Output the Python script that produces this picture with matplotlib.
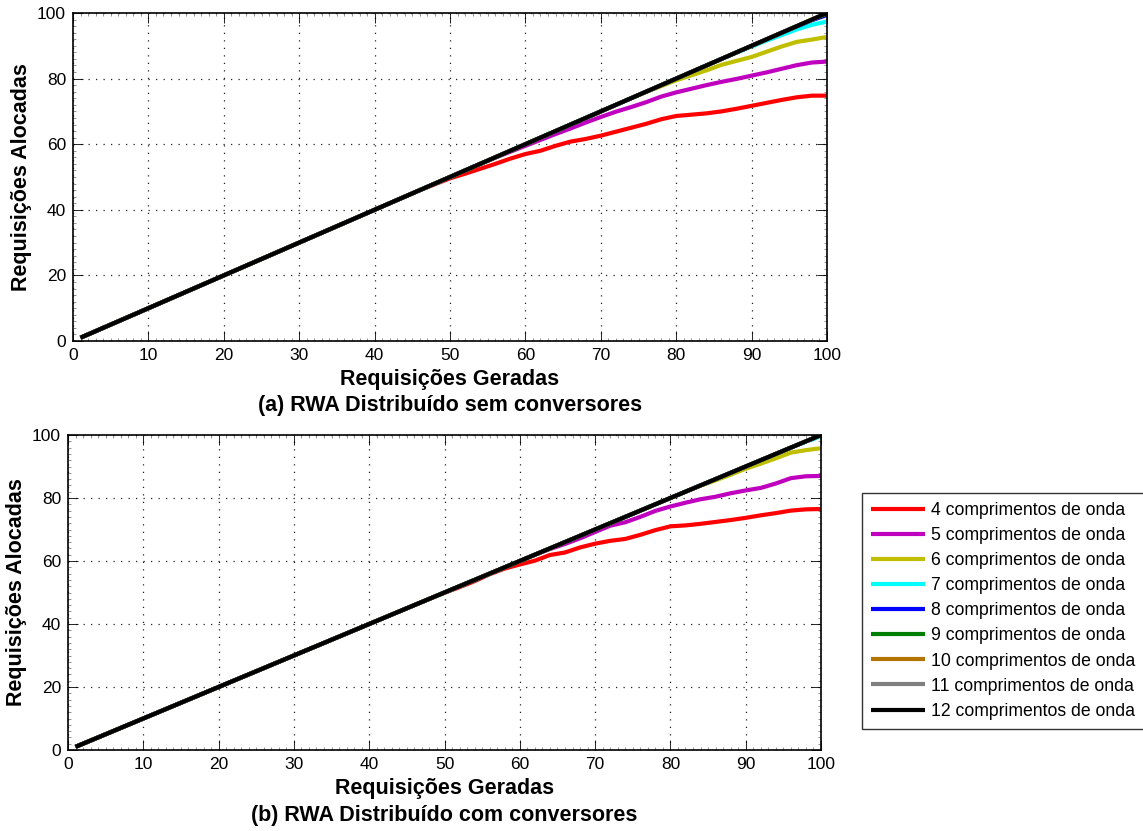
import matplotlib
matplotlib.use("Agg")
import matplotlib.pyplot as plt
from matplotlib.ticker import MultipleLocator

plt.rcParams['font.family'] = ['Liberation Sans', 'DejaVu Sans']

# requisicoes geradas (x)
X = [1, 44, 46, 48, 50, 52, 54, 56, 58, 60, 62, 64, 66, 68, 70, 72, 74, 76, 78, 80,
     82, 84, 86, 88, 90, 92, 94, 96, 98, 100]

# (a) sem conversores
SEM_4 = [1, 44, 46, 47.8, 49.6, 51.0, 52.5, 54.0, 55.6, 57.0, 58.0, 59.5, 60.8, 61.6, 62.6,
         63.8, 65.0, 66.2, 67.6, 68.6, 69.0, 69.4, 70.0, 70.8, 71.7, 72.6, 73.5, 74.3, 74.8, 74.8]
SEM_5 = [1, 44, 46, 48, 50, 52, 54, 55.9, 57.7, 59.5, 61.3, 63.1, 64.8, 66.6, 68.3,
         69.9, 71.3, 72.8, 74.5, 75.8, 76.9, 78.0, 79.0, 79.9, 80.9, 81.9, 83.0, 84.1, 84.9, 85.2]
SEM_6 = [1, 44, 46, 48, 50, 52, 54, 56, 58, 60, 62, 64, 66, 68, 70,
         72, 74, 75.9, 77.7, 79.5, 81.0, 82.5, 84.2, 85.4, 86.6, 88.2, 89.8, 91.2, 91.9, 92.7]
SEM_7 = [1, 44, 46, 48, 50, 52, 54, 56, 58, 60, 62, 64, 66, 68, 70,
         72, 74, 76, 78, 80, 82, 84, 86, 87.9, 89.8, 91.6, 93.3, 95.0, 96.4, 97.4]
SEM_8 = [1, 44, 46, 48, 50, 52, 54, 56, 58, 60, 62, 64, 66, 68, 70,
         72, 74, 76, 78, 80, 82, 84, 86, 88, 90, 92, 94, 95.9, 97.8, 99.4]
SEM_9 = [1, 44, 46, 48, 50, 52, 54, 56, 58, 60, 62, 64, 66, 68, 70,
         72, 74, 76, 78, 80, 82, 84, 86, 88, 90, 92, 94, 96, 98, 99.8]
SEM_10 = [1, 44, 46, 48, 50, 52, 54, 56, 58, 60, 62, 64, 66, 68, 70,
          72, 74, 76, 78, 80, 82, 84, 86, 88, 90, 92, 94, 96, 98, 100]
SEM_11 = [1, 44, 46, 48, 50, 52, 54, 56, 58, 60, 62, 64, 66, 68, 70,
          72, 74, 76, 78, 80, 82, 84, 86, 88, 90, 92, 94, 96, 98, 100]
SEM_12 = [1, 44, 46, 48, 50, 52, 54, 56, 58, 60, 62, 64, 66, 68, 70,
          72, 74, 76, 78, 80, 82, 84, 86, 88, 90, 92, 94, 96, 98, 100]

# (b) com conversores
COM_4 = [1, 44, 46, 48, 49.9, 51.7, 53.6, 55.8, 57.6, 58.9, 60.1, 61.9, 62.7, 64.3, 65.5,
         66.4, 67.0, 68.3, 69.8, 71.0, 71.3, 71.8, 72.4, 73.0, 73.7, 74.5, 75.2, 76.0, 76.4, 76.5]
COM_5 = [1, 44, 46, 48, 50, 52, 54, 56, 58, 60, 62, 63.8, 65.4, 67.2, 69.2,
         71.2, 72.3, 74.0, 75.9, 77.3, 78.5, 79.6, 80.4, 81.5, 82.4, 83.2, 84.6, 86.3, 86.9, 87.0]
COM_6 = [1, 44, 46, 48, 50, 52, 54, 56, 58, 60, 62, 64, 66, 68, 70,
         72, 74, 76, 78, 80, 82, 83.9, 85.6, 87.4, 89.3, 90.9, 92.6, 94.4, 95.2, 95.8]
COM_7 = [1, 44, 46, 48, 50, 52, 54, 56, 58, 60, 62, 64, 66, 68, 70,
         72, 74, 76, 78, 80, 82, 84, 86, 88, 90, 92, 94, 96, 97.9, 99.6]
COM_8 = [1, 44, 46, 48, 50, 52, 54, 56, 58, 60, 62, 64, 66, 68, 70,
         72, 74, 76, 78, 80, 82, 84, 86, 88, 90, 92, 94, 96, 98, 100]
COM_9 = COM_8
COM_10 = COM_8
COM_11 = COM_8
COM_12 = COM_8

NAMES = ['%d comprimentos de onda' % n for n in range(4, 13)]
COLORS = ['#ff0000', '#bf00bf', '#bfbf00', '#00ffff', '#0000ff', '#007f00',
          '#b37400', '#808080', '#000000']

W, H = 1143, 831
fig = plt.figure(figsize=(W / 100, H / 100), dpi=100)
ax1 = fig.add_axes([73 / W, 1 - 341 / H, 754 / W, 328 / H])
ax2 = fig.add_axes([68 / W, 1 - 750 / H, 753 / W, 315 / H])


def draw(ax, series, sub, sub_y):
    for ys, c, name in zip(series, COLORS, NAMES):
        ax.plot(X, ys, color=c, lw=3.0, label=name, solid_capstyle='butt')
    ax.set_xlim(0, 100)
    ax.set_ylim(0, 100)
    ax.xaxis.set_major_locator(MultipleLocator(10))
    ax.yaxis.set_major_locator(MultipleLocator(20))
    ax.xaxis.set_minor_locator(MultipleLocator(1))
    ax.yaxis.set_minor_locator(MultipleLocator(2))
    ax.tick_params(which='both', direction='in', top=True, right=True, labelsize=12.5, pad=5)
    ax.tick_params(which='major', length=7, width=0.6)
    ax.tick_params(which='minor', length=2, width=0.4, color='#444444')
    ax.grid(True, which='major', ls=(0, (1, 5)), color='#222222', lw=0.9)
    for sp in ax.spines.values():
        sp.set_linewidth(1.2)
    ax.set_xlabel('Requisições Geradas', fontsize=15.5, fontweight='bold', labelpad=4.5)
    ax.set_ylabel('Requisições Alocadas', fontsize=15.5, fontweight='bold', labelpad=3.5)
    fig.text(ax.get_position().x0 + ax.get_position().width / 2, 1 - sub_y / H, sub,
             ha='center', va='center', fontsize=15.5, fontweight='bold')


draw(ax1, [SEM_4, SEM_5, SEM_6, SEM_7, SEM_8, SEM_9, SEM_10, SEM_11, SEM_12],
     '(a) RWA Distribuído sem conversores', 405)
draw(ax2, [COM_4, COM_5, COM_6, COM_7, COM_8, COM_9, COM_10, COM_11, COM_12],
     '(b) RWA Distribuído com conversores', 816)

handles, labels = ax2.get_legend_handles_labels()
leg = fig.legend(handles, labels, loc='upper left', bbox_to_anchor=(862 / W, 1 - 493 / H),
                 fontsize=12.7, frameon=True, fancybox=False, handlelength=3.05,
                 handletextpad=0.35, labelspacing=0.46, borderaxespad=0, borderpad=0.5)
leg.get_frame().set_edgecolor('black')
leg.get_frame().set_linewidth(1.0)

fig.savefig('out.png', dpi=100)
